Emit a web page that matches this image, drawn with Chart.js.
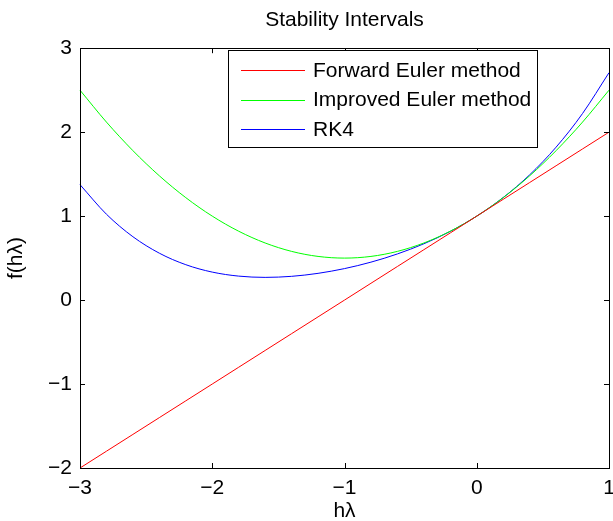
<!DOCTYPE html>
<html>
<head>
<meta charset="utf-8">
<script src="https://cdn.jsdelivr.net/npm/chart.js@4.4.1/dist/chart.umd.min.js"></script>
<style>
  html, body { margin: 0; padding: 0; background: #fff; }
  canvas { display: block; }
</style>
</head>
<body>
<canvas id="chart" width="613" height="521"></canvas>
<script>
// h*lambda sample points
const hLambda = [-3, -2.8, -2.6, -2.4, -2.2, -2, -1.8, -1.6, -1.4, -1.2, -1,
  -0.8, -0.6, -0.4, -0.2, 0, 0.2, 0.4, 0.6, 0.8, 1];

const forwardEuler = [-2, -1.8, -1.6, -1.4, -1.2, -1, -0.8, -0.6, -0.4, -0.2, 0,
  0.2, 0.4, 0.6, 0.8, 1, 1.2, 1.4, 1.6, 1.8, 2];

const improvedEuler = [2.5, 2.12, 1.78, 1.48, 1.22, 1, 0.82, 0.68, 0.58, 0.52, 0.5,
  0.52, 0.58, 0.68, 0.82, 1, 1.22, 1.48, 1.78, 2.12, 2.5];

const rk4 = [1.375, 1.0224, 0.7548, 0.5584, 0.4214, 0.3333, 0.2854, 0.2704, 0.2828,
  0.3184, 0.375, 0.4518, 0.5494, 0.6704, 0.8187, 1, 1.2214, 1.4918, 1.8214, 2.2224, 2.7083];

const seriesNames = ['Forward Euler method', 'Improved Euler method', 'RK4'];
const seriesColors = ['#ff0000', '#00ff00', '#0000ff'];

const xTicks = [-3, -2, -1, 0, 1];
const yTicks = [-2, -1, 0, 1, 2, 3];

const FONT = 'Liberation Sans, Arial, Helvetica, sans-serif';
const FS = 21;

function toPoints(ys) {
  return hLambda.map((x, i) => ({ x: x, y: ys[i] }));
}

function minus(v) {
  return String(v).replace('-', '\u2212');
}

// white background
const bgPlugin = {
  id: 'bg',
  beforeDraw(chart) {
    const ctx = chart.ctx;
    ctx.save();
    ctx.fillStyle = '#fff';
    ctx.fillRect(0, 0, chart.width, chart.height);
    ctx.restore();
  },
};

// matlab style box with inward ticks on all four sides
const boxPlugin = {
  id: 'box',
  afterDatasetsDraw(chart) {
    const { ctx, chartArea: a, scales } = chart;
    const tl = 5;
    ctx.save();
    ctx.strokeStyle = '#000';
    ctx.lineWidth = 1;
    ctx.beginPath();
    scales.x.ticks.forEach((t) => {
      const px = Math.round(scales.x.getPixelForValue(t.value)) + 0.5;
      ctx.moveTo(px, a.bottom);
      ctx.lineTo(px, a.bottom - tl);
      ctx.moveTo(px, a.top);
      ctx.lineTo(px, a.top + tl);
    });
    scales.y.ticks.forEach((t) => {
      const py = Math.round(scales.y.getPixelForValue(t.value)) + 0.5;
      ctx.moveTo(a.left, py);
      ctx.lineTo(a.left + tl, py);
      ctx.moveTo(a.right, py);
      ctx.lineTo(a.right - tl, py);
    });
    ctx.stroke();
    ctx.strokeRect(Math.round(a.left) + 0.5, Math.round(a.top) + 0.5,
      Math.round(a.right - a.left), Math.round(a.bottom - a.top));
    ctx.restore();
  },
};

// legend box inside the axes, top right
const legendPlugin = {
  id: 'boxLegend',
  afterDraw(chart) {
    const ctx = chart.ctx;
    const x0 = 228, y0 = 50, w = 309, h = 97;
    const rowH = 29.5;
    ctx.save();
    ctx.fillStyle = '#fff';
    ctx.fillRect(x0, y0, w, h);
    ctx.strokeStyle = '#000';
    ctx.lineWidth = 1;
    ctx.strokeRect(x0 + 0.5, y0 + 0.5, w, h);
    ctx.font = FS + 'px ' + FONT;
    ctx.textBaseline = 'middle';
    ctx.textAlign = 'left';
    chart.data.datasets.forEach((ds, i) => {
      const y = y0 + 20 + i * rowH;
      ctx.strokeStyle = ds.borderColor;
      ctx.beginPath();
      ctx.moveTo(x0 + 13, Math.round(y) + 0.5);
      ctx.lineTo(x0 + 77, Math.round(y) + 0.5);
      ctx.stroke();
      ctx.fillStyle = '#000';
      ctx.fillText(ds.label, x0 + 85, y + 1);
    });
    ctx.restore();
  },
};

const datasets = [forwardEuler, improvedEuler, rk4].map((ys, i) => ({
  label: seriesNames[i],
  data: toPoints(ys),
  borderColor: seriesColors[i],
  backgroundColor: seriesColors[i],
  borderWidth: 1,
  pointRadius: 0,
  showLine: true,
  cubicInterpolationMode: 'monotone',
  clip: false,
}));

new Chart(document.getElementById('chart'), {
  type: 'scatter',
  data: { datasets: datasets },
  options: {
    responsive: false,
    animation: false,
    devicePixelRatio: 1,
    layout: { padding: { left: 0, right: 4, top: 0, bottom: 0 } },
    plugins: {
      legend: { display: false },
      tooltip: { enabled: false },
      title: {
        display: true,
        fullSize: false,
        text: 'Stability Intervals',
        color: '#000',
        font: { family: FONT, size: FS, weight: 'normal' },
        padding: { top: 8, bottom: 15 },
      },
    },
    scales: {
      x: {
        type: 'linear',
        min: -3,
        max: 1,
        afterBuildTicks: (s) => { s.ticks = xTicks.map((v) => ({ value: v })); },
        afterFit: (s) => { s.height = 53; s.paddingLeft = 0; s.paddingRight = 0; },
        grid: { display: false, drawTicks: false },
        border: { display: false },
        ticks: {
          color: '#000',
          padding: 8,
          maxRotation: 0,
          font: { family: FONT, size: FS },
          callback: (v) => minus(v),
        },
        title: {
          display: true,
          text: 'h\u03bb',
          color: '#000',
          font: { family: FONT, size: FS },
          padding: { top: 0, bottom: -3 },
        },
      },
      y: {
        type: 'linear',
        min: -2,
        max: 3,
        afterBuildTicks: (s) => { s.ticks = yTicks.map((v) => ({ value: v })); },
        afterFit: (s) => { s.width = 80; s.paddingTop = 0; s.paddingBottom = 0; },
        grid: { display: false, drawTicks: false },
        border: { display: false },
        ticks: {
          color: '#000',
          padding: 8,
          font: { family: FONT, size: FS },
          callback: (v) => minus(v),
        },
        title: {
          display: true,
          text: 'f(h\u03bb)',
          color: '#000',
          font: { family: FONT, size: FS },
          padding: { top: 4, bottom: 0 },
        },
      },
    },
  },
  plugins: [bgPlugin, boxPlugin, legendPlugin],
});
</script>
</body>
</html>
